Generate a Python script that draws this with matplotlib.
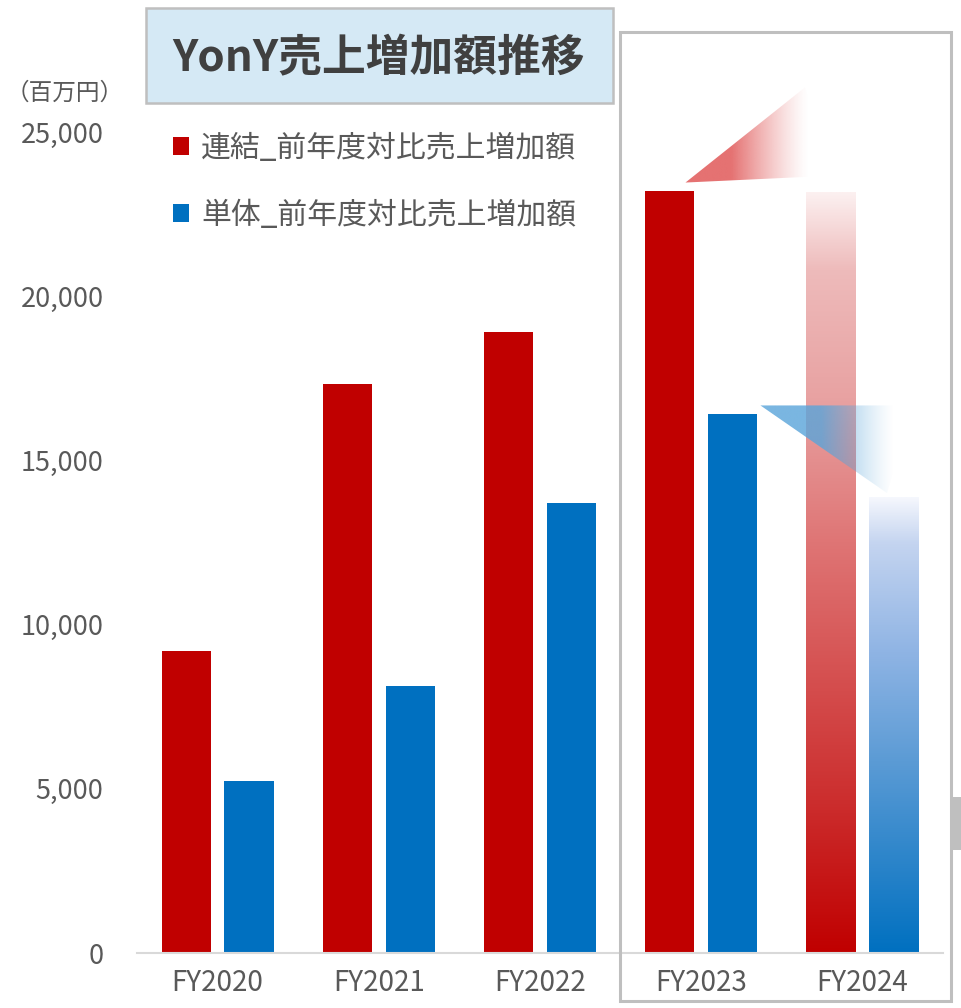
import numpy as np
import matplotlib.pyplot as plt
from matplotlib.colors import LinearSegmentedColormap, to_rgb
from matplotlib.patches import Rectangle, Polygon, Patch

plt.rcParams['font.family'] = ['Noto Sans CJK JP', 'DejaVu Sans']

# --- data (百万円) ---
years = ['FY2020', 'FY2021', 'FY2022', 'FY2023', 'FY2024']
consolidated = [9200, 17330, 18910, 23200, 23170]
standalone = [5240, 8120, 13700, 16410, 13890]
series_labels = ['連結_前年度対比売上増加額', '単体_前年度対比売上増加額']
yticks = [0, 5000, 10000, 15000, 20000, 25000]

RED, BLUE, GRAY = '#C00000', '#0070C0', '#595959'

W, H = 961, 1008
fig = plt.figure(figsize=(W / 100, H / 100), dpi=100)


def fx(px):
    return px / W


def fy(py):
    return 1 - py / H


ax = fig.add_axes([fx(137), fy(953), fx(943) - fx(137), fy(1) - fy(953)])
ax.set_xlim(-0.5, 4.5)
ax.set_ylim(0, 29000)

x = np.arange(len(years))
off, bw = 0.195, 0.305
red_bars = ax.bar(x - off, consolidated, bw, color=RED, zorder=2)
blue_bars = ax.bar(x + off, standalone, bw, color=BLUE, zorder=2)

# last year (forecast) drawn as vertical gradients
red_cmap = LinearSegmentedColormap.from_list('r', [
    (0.0, '#C00000'), (0.2, '#CC2E2E'), (0.54, '#DF7575'),
    (0.73, '#E8A2A2'), (0.9, '#EEBBBB'), (1.0, '#FCF0F0')])
blue_cmap = LinearSegmentedColormap.from_list('b', [
    (0.0, '#0070C0'), (0.42, '#5B9BD5'), (0.66, '#8FB4E4'),
    (0.9, '#C4D4F0'), (1.0, '#F5F7FD')])
ramp = np.linspace(0, 1, 256).reshape(-1, 1)
for bar, cmap in ((red_bars[-1], red_cmap), (blue_bars[-1], blue_cmap)):
    bar.set_facecolor('none')
    x0, w, h = bar.get_x(), bar.get_width(), bar.get_height()
    im = ax.imshow(ramp, cmap=cmap, origin='lower', aspect='auto',
                   extent=(x0, x0 + w, 0, h), zorder=2)
    im.set_clip_path(bar)


# fading "arrow" wedges from FY2023 to FY2024
def wedge(pts, color, solid_to, zero_at, alpha):
    poly = Polygon(pts, closed=True, fc='none', ec='none', zorder=3)
    ax.add_patch(poly)
    xs = [p[0] for p in pts]
    ys = [p[1] for p in pts]
    t = np.linspace(0, 1, 256)
    a = np.interp(t, [0, solid_to, zero_at, 1], [alpha, alpha, 0, 0]) ** 1.3
    img = np.zeros((2, 256, 4))
    img[..., :3] = to_rgb(color)
    img[..., 3] = a
    im = ax.imshow(img, origin='lower', aspect='auto', zorder=3,
                   extent=(min(xs), max(xs), min(ys), max(ys)))
    im.set_clip_path(poly)


r_edge = red_bars[3].get_x() + bw
wedge([(r_edge - 0.055, consolidated[3] + 270),
       (4 - 0.356, consolidated[4] + 3200),
       (4 - 0.139, consolidated[4] + 520)],
      '#E57272', 0.3, 0.8, 1.0)
b_edge = blue_bars[3].get_x() + bw
wedge([(b_edge + 0.02, standalone[3] + 270),
       (4 + 0.314, standalone[3] + 270),
       (4 + 0.153, standalone[4] + 120)],
      '#5AA5DA', 0.4, 0.88, 0.85)
ax.set_xlim(-0.5, 4.5)
ax.set_ylim(0, 29000)

# axes styling
for s in ('left', 'top', 'right'):
    ax.spines[s].set_visible(False)
ax.spines['bottom'].set_color('#D9D9D9')
ax.spines['bottom'].set_linewidth(1.5)
ax.set_yticks(yticks)
ax.set_yticklabels([f'{v:,}' for v in yticks])
ax.set_xticks(x)
ax.set_xticklabels(years)
ax.tick_params(axis='y', length=0, pad=24, labelsize=19.5, labelcolor=GRAY)
ax.tick_params(axis='x', length=0, pad=11, labelsize=20, labelcolor=GRAY)

fig.text(fx(65), fy(93), '（百万円）', ha='center', va='center',
         fontsize=17, color=GRAY)

# legend
ax.legend([Patch(fc=RED), Patch(fc=BLUE)], series_labels,
          loc='upper left', bbox_to_anchor=(fx(173), fy(133)),
          bbox_transform=fig.transFigure, frameon=False, fontsize=21.5,
          labelcolor=GRAY, handlelength=0.55, handleheight=0.55,
          handletextpad=0.4, labelspacing=1.2, borderpad=0, borderaxespad=0)

# title box
fig.add_artist(Rectangle((fx(146), fy(103)), fx(613) - fx(146), fy(8) - fy(103),
                         transform=fig.transFigure, fc='#D5E9F5', ec='#BFBFBF',
                         lw=1.8, zorder=3))
fig.text(fx(379), fy(58), 'YonY売上増加額推移', ha='center', va='center',
         fontsize=31.5, fontweight='bold', color='#404040', zorder=4)

# highlight frame around FY2023-FY2024
fig.add_artist(Rectangle((fx(620), fy(1001)), fx(951) - fx(620), fy(32) - fy(1001),
                         transform=fig.transFigure, fill=False, ec='#BFBFBF',
                         lw=2.2, zorder=5))
fig.add_artist(Rectangle((fx(953), fy(850)), fx(961) - fx(953), fy(797) - fy(850),
                         transform=fig.transFigure, fc='#BFBFBF', ec='none'))

fig.savefig('out.png', dpi=100)
